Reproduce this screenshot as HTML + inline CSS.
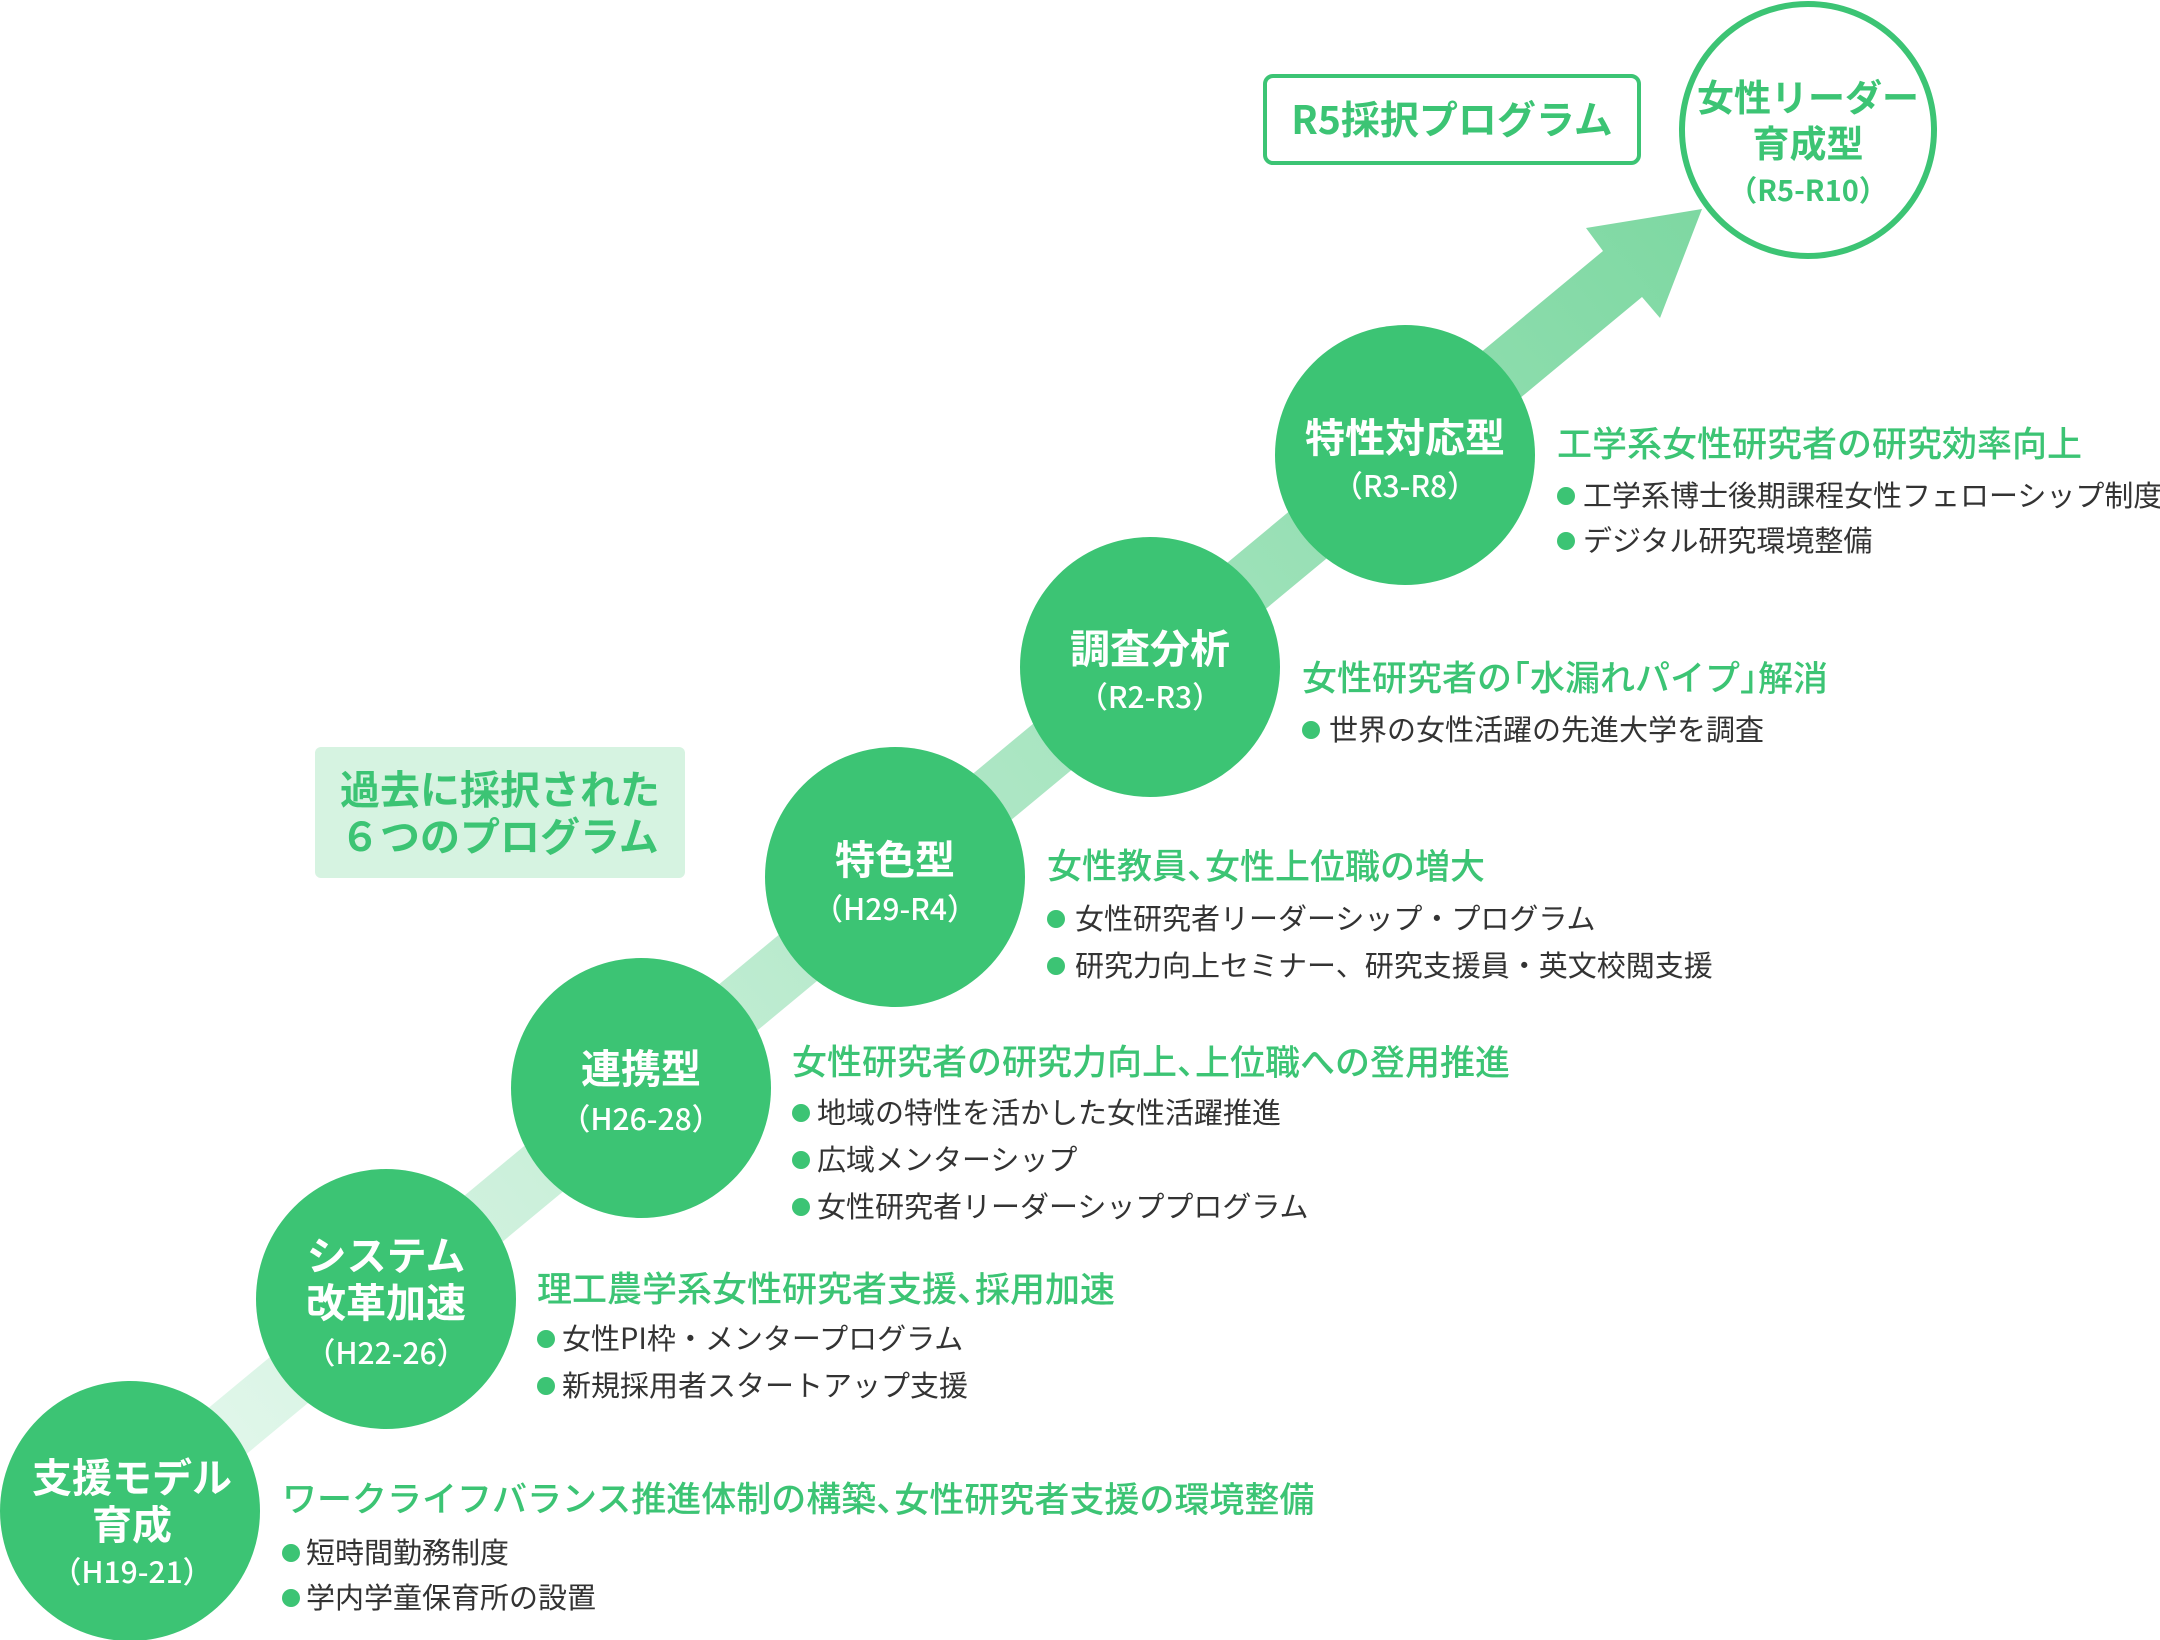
<!DOCTYPE html>
<html><head><meta charset="utf-8"><style>
html,body{margin:0;padding:0;background:#fff;}
svg{display:block;}
text{font-family:"Noto Sans CJK JP","Liberation Sans",sans-serif;}
.w{fill:#fff;font-weight:700;font-size:40px;}
.wp{fill:#fff;font-weight:500;font-size:30px;}
.h{fill:#3cc474;font-weight:500;font-size:35px;}
.b{fill:#333;font-size:29px;}
.g{fill:#3cc474;font-weight:700;}
</style></head><body>
<svg width="2160" height="1640" viewBox="0 0 2160 1640" xmlns="http://www.w3.org/2000/svg">
<defs>
<linearGradient id="ag" x1="131" y1="1511" x2="1702" y2="209" gradientUnits="userSpaceOnUse">
<stop offset="0" stop-color="#e6f8ee"/><stop offset="1" stop-color="#7ed8a2"/>
</linearGradient>
</defs>
<polygon fill="url(#ag)" points="112,1488 1603,251 1586,228 1702,209 1660,318 1642,297 150,1534"/>

<rect x="1265" y="76" width="374" height="87" rx="8" fill="#fff" stroke="#3cc474" stroke-width="4"/>
<text class="g" x="1452" y="118" font-size="39" text-anchor="middle" dominant-baseline="central">R5採択プログラム</text>

<circle cx="1808" cy="130" r="126" fill="#fff" stroke="#3cc474" stroke-width="6"/>
<text class="g" x="1808" y="95" font-size="37" text-anchor="middle" dominant-baseline="central">女性リーダー</text>
<text class="g" x="1808" y="141" font-size="37" text-anchor="middle" dominant-baseline="central">育成型</text>
<text class="g" x="1808" y="189" font-size="29" font-weight="500" text-anchor="middle" dominant-baseline="central">（R5-R10）</text>

<rect x="315" y="747" width="370" height="131" rx="6" fill="#d6f3e1"/>
<text class="g" x="340" y="787" font-size="40" dominant-baseline="central">過去に採択された</text>
<text class="g" x="340" y="834" font-size="40" dominant-baseline="central">６つのプログラム</text>

<g fill="#3cc474">
<circle cx="130" cy="1511" r="130"/>
<circle cx="386" cy="1299" r="130"/>
<circle cx="641" cy="1088" r="130"/>
<circle cx="895" cy="877" r="130"/>
<circle cx="1150" cy="667" r="130"/>
<circle cx="1405" cy="455" r="130"/>
</g>
<g text-anchor="middle" dominant-baseline="central">
<text class="w" x="132" y="1475">支援モデル</text>
<text class="w" x="132" y="1522">育成</text>
<text class="wp" x="132" y="1570">（H19-21）</text>
<text class="w" x="386" y="1253">システム</text>
<text class="w" x="386" y="1300">改革加速</text>
<text class="wp" x="386" y="1351">（H22-26）</text>
<text class="w" x="641" y="1066">連携型</text>
<text class="wp" x="641" y="1117">（H26-28）</text>
<text class="w" x="895" y="857">特色型</text>
<text class="wp" x="895" y="907">（H29-R4）</text>
<text class="w" x="1150" y="646">調査分析</text>
<text class="wp" x="1150" y="695">（R2-R3）</text>
<text class="w" x="1405" y="435">特性対応型</text>
<text class="wp" x="1405" y="484">（R3-R8）</text>
</g>

<g dominant-baseline="central">
<text class="h" x="282" y="1497">ワークライフバランス推進体制の構築、<tspan dx="-17">女性研究者支援の環境整備</tspan></text>
<text class="b" x="306" y="1551">短時間勤務制度</text>
<text class="b" x="306" y="1596">学内学童保育所の設置</text>

<text class="h" x="537" y="1287">理工農学系女性研究者支援、<tspan dx="-17">採用加速</tspan></text>
<text class="b" x="562" y="1337">女性PI枠・メンタープログラム</text>
<text class="b" x="562" y="1384">新規採用者スタートアップ支援</text>

<text class="h" x="792" y="1060">女性研究者の研究力向上、<tspan dx="-17">上位職への登用推進</tspan></text>
<text class="b" x="817" y="1111">地域の特性を活かした女性活躍推進</text>
<text class="b" x="817" y="1158">広域メンターシップ</text>
<text class="b" x="817" y="1205">女性研究者リーダーシッププログラム</text>

<text class="h" x="1047" y="864">女性教員、<tspan dx="-17">女性上位職の増大</tspan></text>
<text class="b" x="1075" y="917">女性研究者リーダーシップ・プログラム</text>
<text class="b" x="1075" y="964">研究力向上セミナー、研究支援員・英文校閲支援</text>

<text class="h" x="1302" y="676">女性研究者の<tspan dx="-17">「</tspan>水漏れパイプ」<tspan dx="-17">解消</tspan></text>
<text class="b" x="1329" y="728">世界の女性活躍の先進大学を調査</text>

<text class="h" x="1557" y="442">工学系女性研究者の研究効率向上</text>
<text class="b" x="1583" y="494">工学系博士後期課程女性フェローシップ制度</text>
<text class="b" x="1583" y="539">デジタル研究環境整備</text>
</g>
<g fill="#3cc474">
<circle cx="291" cy="1553" r="9"/><circle cx="291" cy="1598" r="9"/>
<circle cx="546" cy="1339" r="9"/><circle cx="546" cy="1386" r="9"/>
<circle cx="801" cy="1113" r="9"/><circle cx="801" cy="1160" r="9"/><circle cx="801" cy="1207" r="9"/>
<circle cx="1056" cy="919" r="9"/><circle cx="1056" cy="966" r="9"/>
<circle cx="1311" cy="730" r="9"/>
<circle cx="1566" cy="496" r="9"/><circle cx="1566" cy="541" r="9"/>
</g>
</svg>
</body></html>
